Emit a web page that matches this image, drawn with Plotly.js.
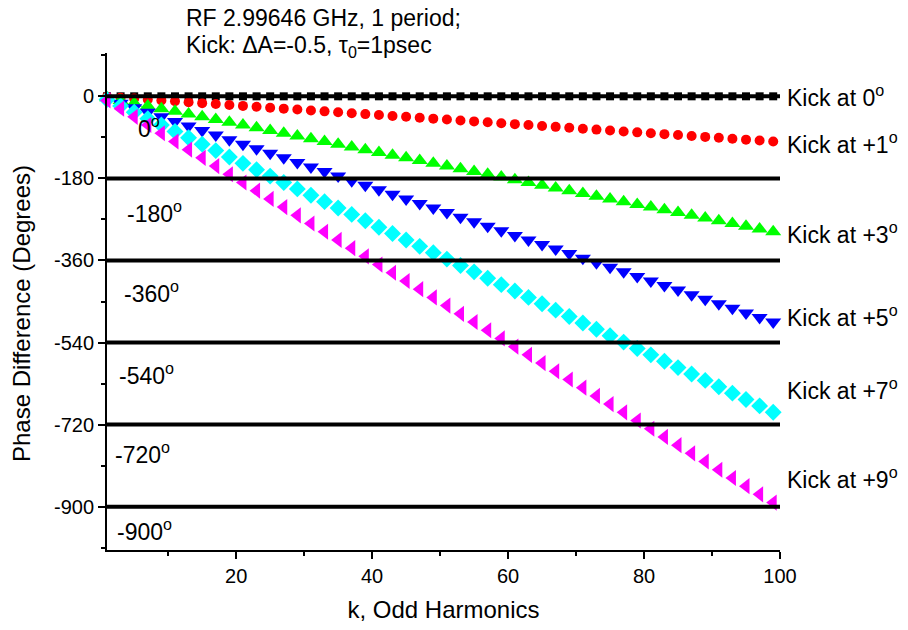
<!DOCTYPE html>
<html>
<head>
<meta charset="utf-8">
<script src="https://cdn.plot.ly/plotly-3.0.1.min.js"></script>
<style>html,body{margin:0;padding:0;background:#fff;}#chart{width:908px;height:630px;}</style>
</head>
<body>
<div id="chart"></div>
<script>
// Odd harmonics k
const harmonics = [1,3,5,7,9,11,13,15,17,19,21,23,25,27,29,31,33,35,37,39,41,43,45,47,49,51,53,55,57,59,61,63,65,67,69,71,73,75,77,79,81,83,85,87,89,91,93,95,97,99];
// Phase difference (degrees)
const kick0 = [0,0,0,0,0,0,0,0,0,0,0,0,0,0,0,0,0,0,0,0,0,0,0,0,0,0,0,0,0,0,0,0,0,0,0,0,0,0,0,0,0,0,0,0,0,0,0,0,0,0];
const kick1 = [-1,-3,-5,-7,-9,-11,-13,-15,-17,-19,-21,-23,-25,-27,-29,-31,-33,-35,-37,-39,-41,-43,-45,-47,-49,-51,-53,-55,-57,-59,-61,-63,-65,-67,-69,-71,-73,-75,-77,-79,-81,-83,-85,-87,-89,-91,-93,-95,-97,-99];
const kick3 = [-3,-9,-15,-21,-27,-33,-39,-45,-51,-57,-63,-69,-75,-81,-87,-93,-99,-105,-111,-117,-123,-129,-135,-141,-147,-153,-159,-165,-171,-177,-183,-189,-195,-201,-207,-213,-219,-225,-231,-237,-243,-249,-255,-261,-267,-273,-279,-285,-291,-297];
const kick5 = [-5,-15,-25,-35,-45,-55,-65,-75,-85,-95,-105,-115,-125,-135,-145,-155,-165,-175,-185,-195,-205,-215,-225,-235,-245,-255,-265,-275,-285,-295,-305,-315,-325,-335,-345,-355,-365,-375,-385,-395,-405,-415,-425,-435,-445,-455,-465,-475,-485,-495];
const kick7 = [-7,-21,-35,-49,-63,-77,-91,-105,-119,-133,-147,-161,-175,-189,-203,-217,-231,-245,-259,-273,-287,-301,-315,-329,-343,-357,-371,-385,-399,-413,-427,-441,-455,-469,-483,-497,-511,-525,-539,-553,-567,-581,-595,-609,-623,-637,-651,-665,-679,-693];
const kick9 = [-9,-27,-45,-63,-81,-99,-117,-135,-153,-171,-189,-207,-225,-243,-261,-279,-297,-315,-333,-351,-369,-387,-405,-423,-441,-459,-477,-495,-513,-531,-549,-567,-585,-603,-621,-639,-657,-675,-693,-711,-729,-747,-765,-783,-801,-819,-837,-855,-873,-891];

const seriesNames = ["Kick at 0°","Kick at +1°","Kick at +3°","Kick at +5°","Kick at +7°","Kick at +9°"];
const seriesLabels = ["Kick at 0<sup>o</sup>","Kick at +1<sup>o</sup>","Kick at +3<sup>o</sup>","Kick at +5<sup>o</sup>","Kick at +7<sup>o</sup>","Kick at +9<sup>o</sup>"];
const refLevels = [0,-180,-360,-540,-720,-900];
const refLabels = ["0<sup>o</sup>","-180<sup>o</sup>","-360<sup>o</sup>","-540<sup>o</sup>","-720<sup>o</sup>","-900<sup>o</sup>"];
const yTickVals = [0,-180,-360,-540,-720,-900];
const yTickText = ["0","-180","-360","-540","-720","-900"];
const yMinorVals = [90,-90,-270,-450,-630,-810,-990];
const xTickVals = [20,40,60,80,100];
const xTickText = ["20","40","60","80","100"];
const xMinorVals = [10,30,50,70,90];
const titleLines = ["RF 2.99646 GHz, 1 period;", "Kick: ΔA=-0.5, τ<sub>0</sub>=1psec"];
const xTitle = "k, Odd Harmonics";
const yTitle = "Phase Difference (Degrees)";

const FONT = "Liberation Sans, Arial, sans-serif";
const styles = [
  {symbol:"square", color:"#000000", size:8},
  {symbol:"circle", color:"#ff0000", size:10},
  {symbol:"triangle-up", color:"#00ff00", size:14},
  {symbol:"triangle-down", color:"#0000ff", size:14},
  {symbol:"diamond", color:"#00ffff", size:13},
  {symbol:"triangle-left", color:"#ff00ff", size:14}
];
const ys = [kick0,kick1,kick3,kick5,kick7,kick9];
const traces = ys.map((y,i)=>({
  x: harmonics, y: y, type:"scatter", mode:"markers", name: seriesNames[i],
  marker:{symbol:styles[i].symbol, color:styles[i].color, size:styles[i].size, line:{width:0}},
  hoverinfo:"x+y", cliponaxis:false
}));

// label positions (layout)
const seriesLabelY = [0,-103,-300,-482,-642,-837];
const refLabelX = [5.3,3.65,3.2,2.47,1.88,2.18];
const refLabelY = [-67,-254,-429,-609,-782,-951];

const annotations = [];
seriesLabels.forEach((t,i)=>annotations.push({
  text:t, xref:"paper", x:1, xshift:5, xanchor:"left", yref:"y", y:seriesLabelY[i], yanchor:"middle",
  showarrow:false, font:{family:FONT, size:23, color:"#000"}
}));
refLabels.forEach((t,i)=>annotations.push({
  text:t, xref:"x", x:refLabelX[i], xanchor:"left", yref:"y", y:refLabelY[i], yanchor:"middle",
  showarrow:false, font:{family:FONT, size:23, color:"#000"}
}));
const titleY = [18, 47];
titleLines.forEach((t,i)=>annotations.push({
  text:t, xref:"paper", x:(184-107)/673, xanchor:"left", yref:"paper", y:1+(53-titleY[i])/497, yanchor:"middle",
  showarrow:false, font:{family:FONT, size:23, color:"#000"}
}));
annotations.push({
  text:yTitle, textangle:-90, xref:"paper", x:(21-107)/673, xanchor:"center",
  yref:"paper", y:1-(314-53)/497, yanchor:"middle",
  showarrow:false, font:{family:FONT, size:24, color:"#000"}
});

const shapes = refLevels.map(v=>({
  type:"line", xref:"x", yref:"y", x0:1, x1:100, y0:v, y1:v, layer:"above",
  line:{color:"#000", width:4}
}));

const layout = {
  width:908, height:630,
  margin:{l:107, r:128, t:53, b:80, pad:0},
  paper_bgcolor:"#fff", plot_bgcolor:"#fff",
  showlegend:false,
  font:{family:FONT, color:"#000"},
  xaxis:{
    range:[1,100], showgrid:false, zeroline:false,
    showline:true, linecolor:"#000", linewidth:2,
    ticks:"outside", ticklen:7, tickwidth:2, tickcolor:"#000",
    tickmode:"array", tickvals:xTickVals, ticktext:xTickText,
    tickfont:{family:FONT, size:20, color:"#000"},
    minor:{tickmode:"array", tickvals:xMinorVals, ticks:"outside", ticklen:4, tickwidth:2, tickcolor:"#000"},
    title:{text:xTitle, font:{family:FONT, size:24, color:"#000"}, standoff:15}
  },
  yaxis:{
    range:[-995,95], showgrid:false, zeroline:false,
    showline:true, linecolor:"#000", linewidth:2,
    ticks:"outside", ticklen:7, tickwidth:2, tickcolor:"#000",
    tickmode:"array", tickvals:yTickVals, ticktext:yTickText,
    tickfont:{family:FONT, size:20, color:"#000"},
    minor:{tickmode:"array", tickvals:yMinorVals, ticks:"outside", ticklen:4, tickwidth:2, tickcolor:"#000"}
  },
  shapes:shapes,
  annotations:annotations
};

Plotly.newPlot("chart", traces, layout, {displayModeBar:false, staticPlot:true});
</script>
</body>
</html>
